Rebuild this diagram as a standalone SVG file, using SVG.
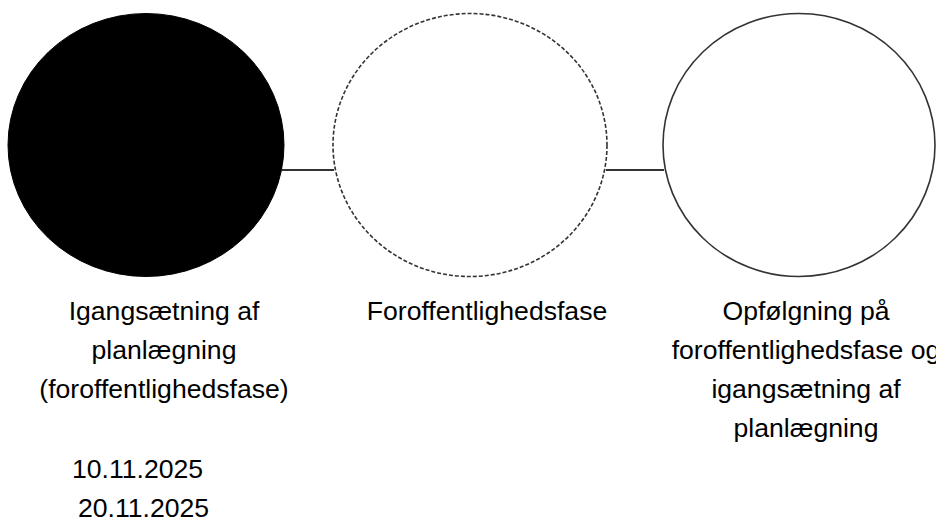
<svg xmlns="http://www.w3.org/2000/svg" width="936" height="520" viewBox="0 0 936 520">
<style>
text{font-family:"Liberation Sans",Arial,sans-serif;font-size:26.6px;fill:#000;}
.c{text-anchor:middle;}
.conn{stroke:#333;stroke-width:2;fill:none;}
.node{stroke:#333;stroke-width:1.6;}
</style>
<rect width="936" height="520" fill="#fff"/>
<g id="connectors">
<line class="conn" x1="282" y1="170" x2="334" y2="170"/>
<line class="conn" x1="606" y1="170" x2="664" y2="170"/>
</g>
<g id="node1">
<ellipse cx="146" cy="145" rx="138" ry="131.5" fill="#000" stroke="#000" stroke-width="1"/>
<text class="c" x="164" y="320">Igangsætning af</text>
<text class="c" x="164" y="359">planlægning</text>
<text class="c" x="164" y="398">(foroffentlighedsfase)</text>
<text x="72" y="478">10.11.2025</text>
<text x="78" y="517">20.11.2025</text>
</g>
<g id="node2">
<ellipse class="node" cx="470" cy="145" rx="137" ry="131.5" fill="#fff" stroke-dasharray="4 2"/>
<text class="c" x="487" y="320">Foroffentlighedsfase</text>
</g>
<g id="node3">
<ellipse class="node" cx="799" cy="145" rx="136" ry="131.5" fill="#fff"/>
<text class="c" x="806" y="320">Opfølgning på</text>
<text class="c" x="806" y="359">foroffentlighedsfase og</text>
<text class="c" x="806" y="398">igangsætning af</text>
<text class="c" x="806" y="437">planlægning</text>
</g>
</svg>
